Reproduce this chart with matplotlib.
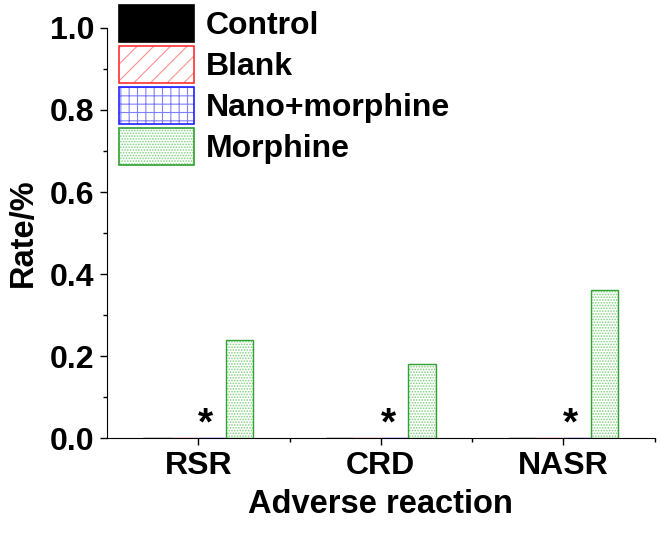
import numpy as np
import matplotlib.pyplot as plt
from matplotlib.patches import Patch
from matplotlib.ticker import MultipleLocator
from matplotlib.legend_handler import HandlerTuple

plt.rcParams['font.family'] = ['Liberation Sans', 'DejaVu Sans']
plt.rcParams['font.weight'] = 'bold'
plt.rcParams['hatch.linewidth'] = 0.8

categories = ['RSR', 'CRD', 'NASR']
groups = ['Control', 'Blank', 'Nano+morphine', 'Morphine']
values = {
    'Control': [0.0, 0.0, 0.0],
    'Blank': [0.0, 0.0, 0.0],
    'Nano+morphine': [0.0, 0.0, 0.0],
    'Morphine': [0.24, 0.18, 0.36],
}
star_labels = ['*', '*', '*']

# face, hatch colour, edge colour, hatch
styles = {
    'Control': ('black', 'black', 'black', None),
    'Blank': ('white', '#ff9090', '#ff3030', '//'),
    'Nano+morphine': ('white', '#8080ff', '#2020ff', '++'),
    'Morphine': ('white', '#80d080', '#30a030', '......'),
}

fig = plt.figure(figsize=(6.6, 5.37), dpi=100)
ax = fig.add_axes([0.162, 0.184, 0.830, 0.764])

x = np.arange(len(categories))
w = 0.15
handles = []
for i, g in enumerate(groups):
    face, hcol, ecol, hatch = styles[g]
    pos = x + (i - 1.5) * w
    ax.bar(pos, values[g], w, color=face, edgecolor=hcol, hatch=hatch, linewidth=0)
    ax.bar(pos, values[g], w, fill=False, edgecolor=ecol, linewidth=1.0)
    p1 = Patch(facecolor=face, edgecolor=hcol, hatch=hatch, linewidth=0)
    p2 = Patch(fill=False, edgecolor=ecol, linewidth=1.2)
    handles.append((p1, p2))

for xi, s in zip(x, star_labels):
    ax.text(xi + 0.04, -0.01, s, ha='center', va='bottom', fontsize=28, fontweight='bold')

ax.set_xlim(-0.5, 2.5)
ax.set_ylim(0, 1.0)
ax.set_xticks(x)
ax.set_xticklabels(categories)
ax.xaxis.set_minor_locator(plt.FixedLocator([0.5, 1.5, 2.5]))
ax.yaxis.set_major_locator(MultipleLocator(0.2))
ax.yaxis.set_minor_locator(MultipleLocator(0.1))
ax.yaxis.set_major_formatter(plt.FormatStrFormatter('%.1f'))

ax.tick_params(which='major', direction='out', length=5, width=1, labelsize=23, pad=4)
ax.tick_params(which='minor', direction='out', length=3, width=1)
for lab in ax.get_xticklabels() + ax.get_yticklabels():
    lab.set_fontweight('bold')

ax.spines['top'].set_visible(False)
ax.spines['right'].set_visible(False)

ax.set_xlabel('Adverse reaction', fontsize=23.5, fontweight='bold', labelpad=6)
ax.set_ylabel('Rate/%', fontsize=23.5, fontweight='bold', labelpad=8)

ax.legend(handles, groups, handler_map={tuple: HandlerTuple(ndivide=1, pad=0)},
          loc='upper left', bbox_to_anchor=(0.022, 1.055), frameon=False,
          prop={'size': 23, 'weight': 'bold'}, handlelength=2.35, handleheight=1.38,
          labelspacing=0.14, handletextpad=0.38, borderaxespad=0, borderpad=0)

fig.savefig('out.png', dpi=100)
